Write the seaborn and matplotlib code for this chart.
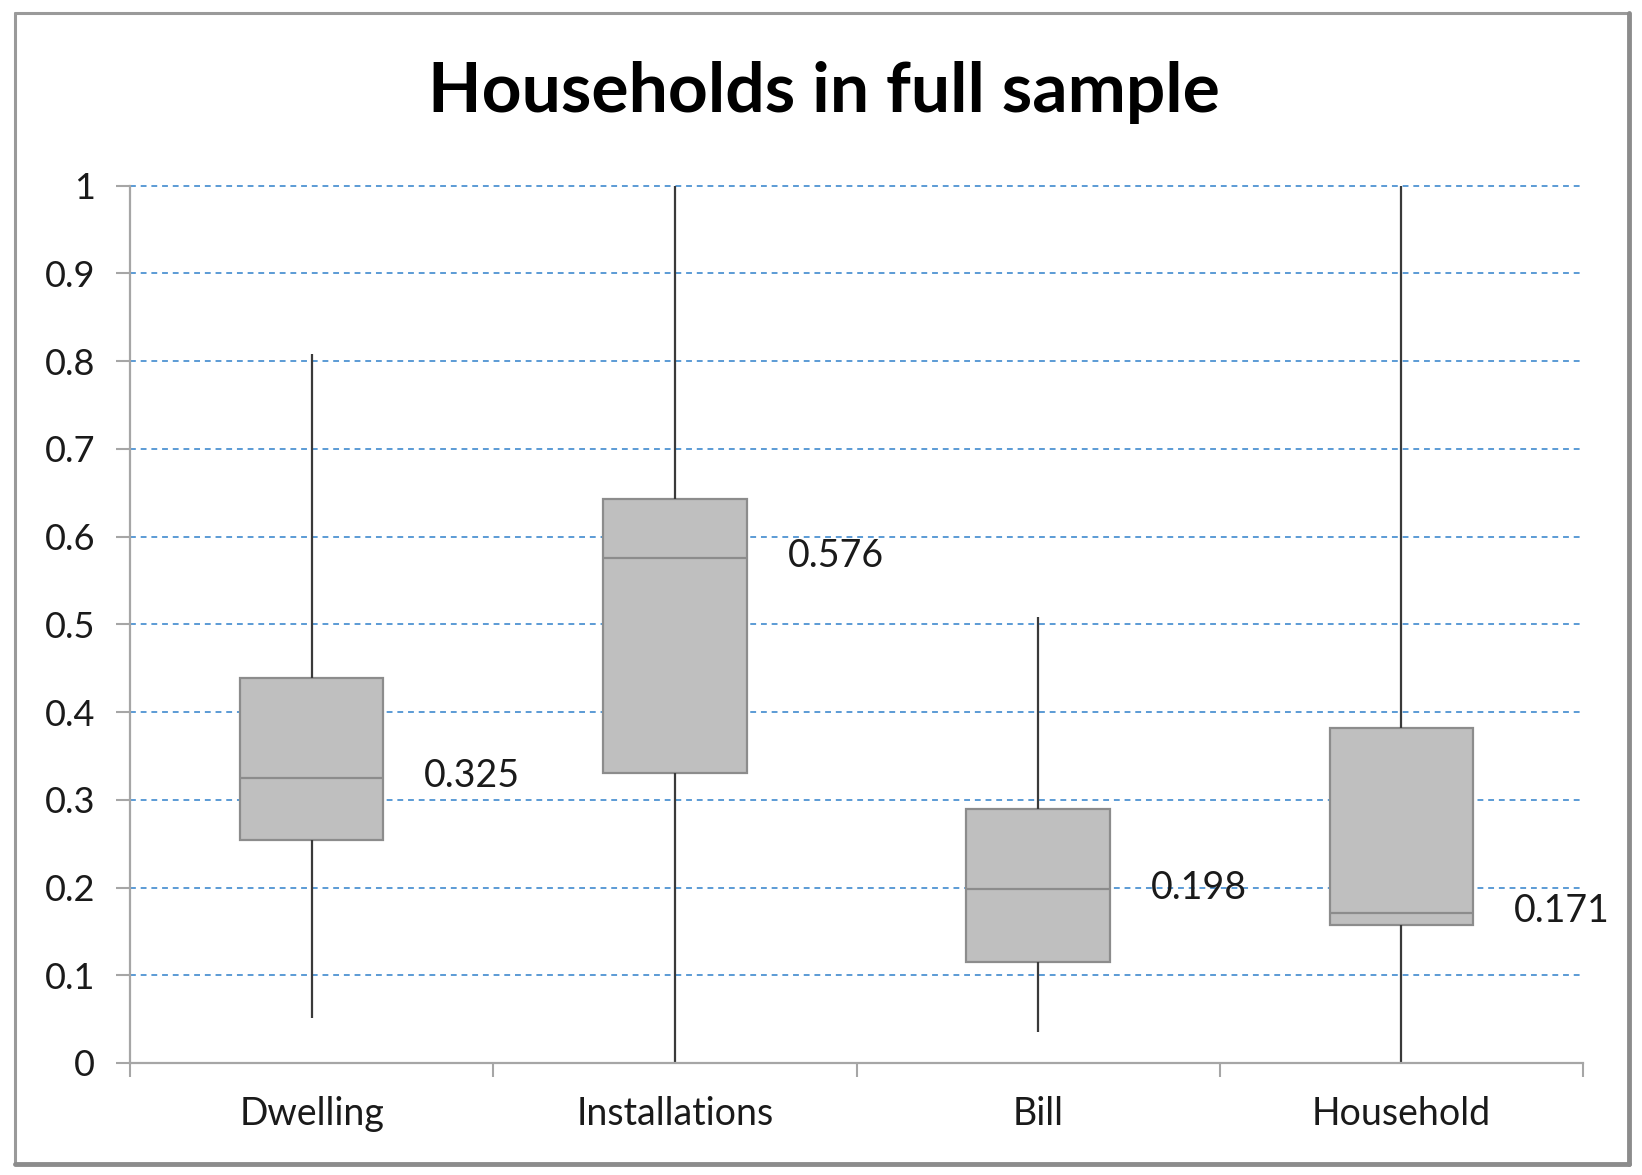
import numpy as np
import pandas as pd
import seaborn as sns
import matplotlib.pyplot as plt
from matplotlib.lines import Line2D
from matplotlib.ticker import FuncFormatter, FixedLocator

# five-number summaries: min, q1, median, q3, max
categories = ["Dwelling", "Installations", "Bill", "Household"]
whisker_low = [0.051, 0.0, 0.035, 0.0]
q1 = [0.254, 0.331, 0.115, 0.157]
median = [0.325, 0.576, 0.198, 0.171]
q3 = [0.439, 0.643, 0.290, 0.382]
whisker_high = [0.808, 1.0, 0.508, 1.0]
median_labels = ["0.325", "0.576", "0.198", "0.171"]

# five points per group give exactly these quartiles
rows = []
for i, c in enumerate(categories):
    for v in (whisker_low[i], q1[i], median[i], q3[i], whisker_high[i]):
        rows.append({"group": c, "value": v})
df = pd.DataFrame(rows)

sns.set_style("white")
plt.rcParams["font.family"] = ["Lato", "DejaVu Sans"]

W, H = 1642, 1175
fig = plt.figure(figsize=(W / 100, H / 100), dpi=100)
ax = fig.add_axes([130 / W, 1 - 1063 / H, (1583 - 130) / W, (1063 - 183) / H])

sns.boxplot(data=df, x="group", y="value", order=categories, whis=(0, 100),
            width=0.395, color="#bfbfbf", saturation=1, showcaps=False,
            linewidth=1.6, ax=ax,
            boxprops={"facecolor": "#bfbfbf", "edgecolor": "#8c8c8c"},
            medianprops={"color": "#8c8c8c", "linewidth": 1.6},
            whiskerprops={"color": "#3a3a3a", "linewidth": 1.6})

for i, lab in enumerate(median_labels):
    ax.text(i + 0.31, median[i] + 0.002, lab, ha="left", va="center",
            fontsize=27, color="#1a1a1a")

ax.set_xlim(-0.5, 3.5)
ax.set_ylim(0, 1.003)
ax.set_yticks(np.arange(0, 1.01, 0.1))
ax.yaxis.set_major_formatter(FuncFormatter(lambda v, p: f"{v:.1f}".rstrip("0").rstrip(".") if v else "0"))
for y in np.arange(0.1, 1.01, 0.1):
    ax.axhline(y, color="#5b9bd5", linestyle=(0, (3, 2.5)), linewidth=1.4, zorder=0)

ax.xaxis.set_minor_locator(FixedLocator([-0.5, 0.5, 1.5, 2.5, 3.5]))
ax.tick_params(bottom=True, left=True, which="both")
ax.tick_params(axis="x", which="major", length=0, pad=24, labelsize=27, labelcolor="#1a1a1a")
ax.tick_params(axis="x", which="minor", length=10, width=1.5, color="#a6a6a6", direction="out")
ax.tick_params(axis="y", which="major", length=10, width=1.5, color="#a6a6a6",
               labelsize=26, labelcolor="#1a1a1a", pad=15)
ax.set_xlabel("")
ax.set_ylabel("")

for s in ("top", "right"):
    ax.spines[s].set_visible(False)
for s in ("left", "bottom"):
    ax.spines[s].set_color("#a6a6a6")
    ax.spines[s].set_linewidth(1.6)
ax.spines["left"].set_bounds(0, 1)

fig.text(0.502, 0.921, "Households in full sample", ha="center", va="center",
         fontsize=50, fontweight="bold", color="black")

# chart frame: thin light top/left, heavier shadowed right/bottom
x0, x1 = 15 / W, 1629 / W
y0, y1 = 1 - 1164 / H, 1 - 13 / H
fig.add_artist(Line2D([x0, x1], [y1, y1], transform=fig.transFigure, color="#9a9a9a", lw=2.2))
fig.add_artist(Line2D([x0, x0], [y0, y1], transform=fig.transFigure, color="#9a9a9a", lw=2.2))
fig.add_artist(Line2D([x1, x1], [y0, y1], transform=fig.transFigure, color="#8c8c8c", lw=3.5))
fig.add_artist(Line2D([x0, x1], [y0, y0], transform=fig.transFigure, color="#8c8c8c", lw=3.5))

fig.savefig("out.png", dpi=100)
